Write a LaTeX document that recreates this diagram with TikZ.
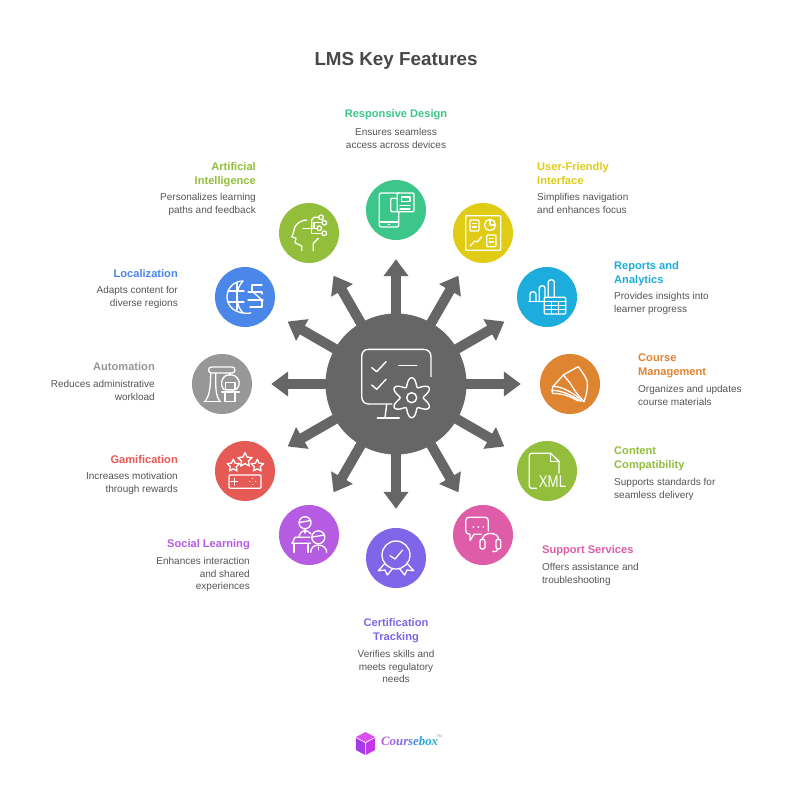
\documentclass[tikz,border=0pt]{standalone}
\usepackage{fontspec}
\setmainfont{Liberation Sans}
\newfontfamily\logofont{Liberation Serif}
\usetikzlibrary{arrows.meta}
\definecolor{designcol}{HTML}{3DC68A}
\definecolor{interfacecol}{HTML}{E0CC14}
\definecolor{reportscol}{HTML}{1CADDC}
\definecolor{coursecol}{HTML}{DF8431}
\definecolor{contentcol}{HTML}{93BE3C}
\definecolor{supportcol}{HTML}{DF5CA8}
\definecolor{trackingcol}{HTML}{7F66E8}
\definecolor{socialcol}{HTML}{B55CE2}
\definecolor{gamecol}{HTML}{E65A55}
\definecolor{autocol}{HTML}{979797}
\definecolor{localcol}{HTML}{4A87E8}
\definecolor{aicol}{HTML}{93BE3C}
\definecolor{hubcol}{HTML}{666666}
\definecolor{textcol}{HTML}{555555}
\tikzset{
	featurecircle/.style={circle, fill=#1, minimum size=60pt, inner sep=0pt},
	hubcircle/.style={circle, fill=hubcol, minimum size=141pt, inner sep=0pt},
	spoke/.style={hubcol, line width=10pt, shorten >=19pt, -{Triangle[width=24pt,length=17pt]}},
	iconline/.style={white, line width=1.3pt, line join=round, line cap=round},
	headlabel/.style={text=#1, inner sep=0pt, font=\fontsize{11.1}{14}\selectfont\bfseries, execute at begin node=\strut},
	bodylabel/.style={text=textcol, inner sep=0pt, yshift=-2.5pt, font=\fontsize{10}{12.4}\selectfont, execute at begin node=\strut},
}
\newcommand{\starlet}[3]{\draw[shift={(#1,#2)},scale=#3] (-90:1) -- (-54:.48) -- (-18:1) -- (18:.48) -- (54:1) -- (90:.48) -- (126:1) -- (162:.48) -- (198:1) -- (234:.48) -- cycle;}

\begin{document}
\begin{tikzpicture}[x=1pt, y=-1pt]
	\useasboundingbox[fill=white] (0,0) rectangle (792,802);
	\node [text=textcol!85!black, inner sep=0pt, font=\fontsize{18.8}{24}\selectfont\bfseries] (heading) at (396,60.5) {LMS Key Features};

	% hub and the ring of features
	\node [hubcircle] (hub) at (396,384) {};
	\node [featurecircle=designcol] (design) at (396,210) {};
	\node [featurecircle=interfacecol] (interface) at (483,233) {};
	\node [featurecircle=reportscol] (reports) at (547,297) {};
	\node [featurecircle=coursecol] (course) at (570,384) {};
	\node [featurecircle=contentcol] (content) at (547,471) {};
	\node [featurecircle=supportcol] (support) at (483,535) {};
	\node [featurecircle=trackingcol] (tracking) at (396,558) {};
	\node [featurecircle=socialcol] (social) at (309,535) {};
	\node [featurecircle=gamecol] (game) at (245,471) {};
	\node [featurecircle=autocol] (auto) at (222,384) {};
	\node [featurecircle=localcol] (local) at (245,297) {};
	\node [featurecircle=aicol] (ai) at (309,233) {};

	\foreach \feature in {design, interface, reports, course, content, support, tracking, social, game, auto, local, ai}
		\draw [spoke] (hub.center) -- (\feature);

	% labels
	\node [headlabel=designcol, anchor=north] (designhead) at (396,108) {Responsive Design};
	\node [bodylabel, anchor=north, align=center] (designbody) at (396,126) {Ensures seamless\\access across devices};
	\node [headlabel=interfacecol, anchor=north west, align=left] (interfacehead) at (537,162) {User-Friendly\\Interface};
	\node [bodylabel, anchor=north west, align=left] (interfacebody) at (537,191) {Simplifies navigation\\and enhances focus};
	\node [headlabel=reportscol, anchor=north west, align=left] (reportshead) at (614,261) {Reports and\\Analytics};
	\node [bodylabel, anchor=north west, align=left] (reportsbody) at (614,290) {Provides insights into\\learner progress};
	\node [headlabel=coursecol, anchor=north west, align=left] (coursehead) at (638,354) {Course\\Management};
	\node [bodylabel, anchor=north west, align=left] (coursebody) at (638,383) {Organizes and updates\\course materials};
	\node [headlabel=contentcol, anchor=north west, align=left] (contenthead) at (614,447) {Content\\Compatibility};
	\node [bodylabel, anchor=north west, align=left] (contentbody) at (614,476) {Supports standards for\\seamless delivery};
	\node [headlabel=supportcol, anchor=north west] (supporthead) at (542,543) {Support Services};
	\node [bodylabel, anchor=north west, align=left] (supportbody) at (542,561) {Offers assistance and\\troubleshooting};
	\node [headlabel=trackingcol, anchor=north, align=center] (trackinghead) at (396,618) {Certification\\Tracking};
	\node [bodylabel, anchor=north, align=center] (trackingbody) at (396,648) {Verifies skills and\\meets regulatory\\needs};
	\node [headlabel=socialcol, anchor=north east] (socialhead) at (250,537) {Social Learning};
	\node [bodylabel, anchor=north east, align=right] (socialbody) at (250,555) {Enhances interaction\\and shared\\experiences};
	\node [headlabel=gamecol, anchor=north east] (gamehead) at (178,453) {Gamification};
	\node [bodylabel, anchor=north east, align=right] (gamebody) at (178,470) {Increases motivation\\through rewards};
	\node [headlabel=autocol, anchor=north east] (autohead) at (155,360) {Automation};
	\node [bodylabel, anchor=north east, align=right] (autobody) at (155,378) {Reduces administrative\\workload};
	\node [headlabel=localcol, anchor=north east] (localhead) at (178,267) {Localization};
	\node [bodylabel, anchor=north east, align=right] (localbody) at (178,284) {Adapts content for\\diverse regions};
	\node [headlabel=aicol, anchor=north east, align=right] (aihead) at (256,162) {Artificial\\Intelligence};
	\node [bodylabel, anchor=north east, align=right] (aibody) at (256,191) {Personalizes learning\\paths and feedback};

	% hub icon
	\begin{scope}[shift={(hub.center)}, iconline, line width=1.4pt]
		\draw (35,-7.3) -- (35,-27) .. controls (35,-32) and (32,-34.7) .. (27,-34.7) -- (-27,-34.7) .. controls (-32,-34.7) and (-34.3,-32) .. (-34.3,-27) -- (-34.3,12) .. controls (-34.3,17) and (-32,20) .. (-27,20) -- (-4,20);
		\draw (-9.3,20) -- (-11,33.7);
		\draw (-18.7,34) -- (3.3,34);
		\draw (-24.3,-16.3) -- (-19.3,-12.3) -- (-10,-22.3);
		\draw (-24.3,1) -- (-19.3,5.3) -- (-10,-4.7);
		\draw (2.7,-18.7) -- (20.7,-18.7);
		\draw (15.7,13.7) circle (5);
		\draw plot [domain=0:360, samples=91, smooth, variable=\t] ({15.7+(15.8-4.2*cos(6*\t))*cos(\t)}, {13.7+(15.8-4.2*cos(6*\t))*sin(\t)}) -- cycle;
	\end{scope}

	% phone and news sheet
	\begin{scope}[shift={(design.center)}, iconline]
		\draw [rounded corners=2pt] (2.7,1.7) -- (2.7,17) -- (-16.7,17) -- (-16.7,-17) -- (3,-17);
		\draw (-16.7,12) -- (2.7,12);
		\draw (-7.7,14.5) -- (-6.7,14.5);
		\draw [rounded corners=1pt] (1.3,-11.7) -- (1.3,-17) -- (18,-17) -- (18,1.7) -- (-5.3,1.7) -- (-5.3,-11.7) -- (1.3,-11.7) -- (1.3,1.7);
		\draw (5.5,-13) rectangle (14,-8.7);
		\draw (4,-4.5) -- (14,-4.5);
		\draw (4,-1) -- (14,-1);
	\end{scope}

	% dashboard
	\begin{scope}[shift={(interface.center)}, iconline]
		\draw [rounded corners=1pt] (-17.3,-17.3) rectangle (17.7,17.3);
		\draw [rounded corners=1pt] (-13,-13) rectangle (-4,-2);
		\draw (-10.5,-9.5) -- (-6.5,-9.5) (-10.5,-6) -- (-6.5,-6);
		\draw (7,-8) circle (5.6);
		\draw (7,-13.6) -- (7,-8) -- (12.6,-8);
		\draw (-13,13) -- (-8,8) -- (-5.7,9) -- (-1.3,3.7);
		\draw [rounded corners=1pt] (3.7,2) rectangle (13,13.7);
		\draw (6.2,5.5) -- (10.5,5.5) (6.2,9) -- (10.5,9);
	\end{scope}

	% bars and table
	\begin{scope}[shift={(reports.center)}, iconline]
		\draw (-18,4.7) -- (-2.7,4.7);
		\draw (-17,4.7) -- (-17,-3) .. controls (-17,-6) and (-11,-6) .. (-11,-3) -- (-11,4.7);
		\draw (-7.7,4.7) -- (-7.7,-9) .. controls (-7.7,-12) and (-2,-12) .. (-2,-9) -- (-2,0.3);
		\draw (1.3,0.3) -- (1.3,-15) .. controls (1.3,-18) and (7.3,-18) .. (7.3,-15) -- (7.3,0.3);
		\draw [rounded corners=1pt] (-2.7,0.3) rectangle (18.7,17);
		\draw (-2.7,4.5) -- (18.7,4.5) (-2.7,8.7) -- (18.7,8.7) (-2.7,12.8) -- (18.7,12.8);
		\draw (4.4,4.5) -- (4.4,17) (11.6,4.5) -- (11.6,17);
	\end{scope}

	% open book
	\begin{scope}[shift={(course.center)}, iconline]
		\draw (-6.7,-9) .. controls (-2,-12) and (4,-15) .. (8.3,-17.3) .. controls (12,-12) and (16,-7) .. (17.3,-2.3) .. controls (18,5) and (16,12) .. (14,17.7) .. controls (10,13) and (6,9) .. (3.3,4.3) .. controls (1,0) and (-3,-5) .. (-6.7,-9);
		\draw (-6.7,-9) -- (-17,2.5) .. controls (-8,2) and (3,9) .. (14,17.7);
		\draw (-17,2.5) -- (-18,6.5) .. controls (-8,6) and (3,12) .. (11,17.5);
		\draw (-18,6.5) -- (-17.5,9.5) .. controls (-8,9) and (2,13) .. (8,17);
	\end{scope}

	% xml file
	\begin{scope}[shift={(content.center)}, iconline]
		\draw (12,2.3) -- (12,-9.7) -- (3.7,-17.7) -- (-16,-17.7) .. controls (-17.2,-17.7) and (-17.7,-17) .. (-17.7,-16) -- (-17.7,15.5) .. controls (-17.7,16.8) and (-17.2,17.3) .. (-16,17.3) -- (-10.5,17.3);
		\draw (3.7,-17.7) -- (3.7,-9.7) -- (12,-9.7);
		\node [white, inner sep=0pt, font=\fontsize{17}{17}\selectfont, xscale=.78] (xmltag) at (5.5,11) {XML};
	\end{scope}

	% chat and headset
	\begin{scope}[shift={(support.center)}, iconline]
		\draw (-1.5,-0.7) -- (-9,-0.7) -- (-13,5.7) -- (-13,-0.7) .. controls (-16,-0.7) and (-17.3,-2) .. (-17.3,-5) -- (-17.3,-14) .. controls (-17.3,-16.5) and (-16,-17.7) .. (-14,-17.7) -- (2,-17.7) .. controls (4.3,-17.7) and (5.3,-16.5) .. (5.3,-14) -- (5.3,-4);
		\draw [line width=2pt] (-9.7,-8.3) -- (-9.6,-8.3) (-4.7,-8.3) -- (-4.6,-8.3) (0.3,-8.3) -- (0.4,-8.3);
		\draw (-0.5,4.3) .. controls (-0.5,-3.5) and (15.5,-3.5) .. (15.5,4.3);
		\draw [rounded corners=2pt] (-3,4.3) rectangle (2,14);
		\draw [rounded corners=2pt] (13,4.3) rectangle (17.7,14);
		\draw (15,14) .. controls (15,16) and (12.5,16.7) .. (9.7,16.7);
	\end{scope}

	% rosette
	\begin{scope}[shift={(tracking.center)}, iconline]
		\draw (0,-3) circle (14);
		\draw (-6,-2.3) -- (-1,1) -- (6.7,-8);
		\draw (-11,5.3) -- (-17.7,12.7) -- (-11,12) -- (-8.7,17) -- (-3.3,10.3);
		\draw (11,5.3) -- (17.7,12.7) -- (11,12) -- (8.7,17) -- (3.3,10.3);
	\end{scope}

	% teacher and student
	\begin{scope}[shift={(social.center)}, iconline]
		\draw (-4,-12.3) circle (6);
		\draw (-9.8,-12.5) -- (1.7,-14.5);
		\draw (-10.5,2.3) .. controls (-10,-1) and (-8,-3) .. (-4,-5) .. controls (-1,-3.5) and (1,-2.5) .. (2,-1);
		\draw (-4,-5) -- (-4,-2);
		\draw (1,2.3) -- (-14,2.3) -- (-17,8.3) -- (1.5,8.3);
		\draw (-15,8.3) -- (-15,17.3);
		\draw (-1,8.3) -- (-1,17.3);
		\draw (9.3,2.3) circle (6.5);
		\draw (3,2) -- (15.5,0);
		\draw (1.7,17.3) .. controls (1.7,13) and (5,10) .. (9.3,10) .. controls (14,10) and (17.7,13) .. (17.7,17.3);
		\draw (9.3,12) -- (9.3,15);
	\end{scope}

	% stars and gamepad
	\begin{scope}[shift={(game.center)}, iconline]
		\starlet{0}{-11}{7.5}
		\starlet{-11.7}{-5.3}{6.5}
		\starlet{12.3}{-5.3}{6.5}
		\draw [rounded corners=1pt] (-16,4) rectangle (16,17.3);
		\draw (-14,10.7) -- (-7.5,10.7) (-10.7,7.5) -- (-10.7,14);
		\draw (7.6,7.8) -- (7.8,7.8) (4.6,10.7) -- (4.8,10.7) (10.6,10.7) -- (10.8,10.7) (7.6,13.6) -- (7.8,13.6);
	\end{scope}

	% robot arm
	\begin{scope}[shift={(auto.center)}, iconline]
		\draw (-18,17.7) -- (-1.3,17.7);
		\draw (-17,17.7) .. controls (-13,12) and (-11.5,6) .. (-11.3,-11);
		\draw (-2,17.7) .. controls (-6,12) and (-6.5,6) .. (-6.3,-11);
		\draw [rounded corners=3pt] (-13.5,-17) rectangle (13,-11);
		\draw (8,-11) -- (8,-9);
		\draw [rounded corners=3pt] (3,-9) -- (13,-9) -- (18,-2) -- (15,6) -- (1,6) -- (-1,-2) -- cycle;
		\draw (3.7,-1.3) rectangle (13,5.3);
		\draw (-0.3,8) -- (17.3,8);
		\draw (3,8) -- (3,17.7) -- (13,17.7) -- (13,8);
	\end{scope}

	% globe and route
	\begin{scope}[shift={(local.center)}, iconline]
		\draw (-2,-16) .. controls (-11,-16) and (-18,-9) .. (-18,0) .. controls (-18,9) and (-10,18) .. (6,16);
		\draw (-2,-16) .. controls (-10,-8) and (-10,8) .. (-2,16);
		\draw (-8,-14) -- (-8,13);
		\draw (-17,-6) -- (-1,-6) (-17,5) -- (-1,5);
		\draw (7,-12) -- (17,-12);
		\draw (7,-12) -- (7,-5);
		\draw (3,-5) -- (17,-5) -- (17,-3);
		\draw (8,-5) -- (17,3);
		\draw (3,3) -- (18,3);
		\draw (5,10) -- (17,10) -- (17,3);
	\end{scope}

	% head with circuit
	\begin{scope}[shift={(ai.center)}, iconline]
		\draw (-7.3,17.7) -- (-7.3,13) -- (-14,9.7) -- (-13,5.3) -- (-17.3,3.7) .. controls (-15,0) and (-15.5,-3) .. (-14,-6.3) .. controls (-12,-10) and (-7,-13) .. (-2.3,-13);
		\draw (4.3,17.7) -- (4.3,10.3) -- (9.3,5.3);
		\draw (12,-15.7) circle (2.3) (15.3,-10.3) circle (2.3) (10.3,-4.7) circle (2.3) (15.3,0.3) circle (2.3);
		\draw (-6,-4.7) -- (8,-4.7);
		\draw (2.7,-4.7) -- (2.7,-13) -- (5,-15.7) -- (9.7,-15.7);
		\draw (5,-4.7) -- (5,-10.3) -- (13,-10.3);
		\draw (2.7,-4.7) -- (2.7,0.3) -- (13,0.3);
	\end{scope}

	% logo
	\definecolor{cubetop}{HTML}{DC4FF2}
	\definecolor{cubeleft}{HTML}{A63AE6}
	\definecolor{cuberight}{HTML}{C238EA}
	\fill [cubetop] (365.5,732) -- (375,737) -- (365.5,742) -- (356,737) -- cycle;
	\fill [cubeleft] (356,738) -- (365.1,743) -- (365.1,755) -- (356,750) -- cycle;
	\fill [cuberight] (375,738) -- (365.9,743) -- (365.9,755) -- (375,750) -- cycle;
	\node [inner sep=0pt, anchor=base west, font=\logofont\fontsize{12.8}{14}\selectfont\bfseries\itshape] (logo) at (381,745) {\textcolor{socialcol}{C}\textcolor{socialcol!80!trackingcol}{o}\textcolor{trackingcol}{u}\textcolor{trackingcol!80!localcol}{r}\textcolor{localcol!80!trackingcol}{s}\textcolor{localcol}{e}\textcolor{reportscol!70!localcol}{b}\textcolor{reportscol}{o}\textcolor{reportscol!70!designcol}{x}};
	\node [inner sep=0pt, anchor=west, text=textcol!70, font=\fontsize{3.5}{4}\selectfont] (logomark) at (436.5,736) {TM};
\end{tikzpicture}
\end{document}
